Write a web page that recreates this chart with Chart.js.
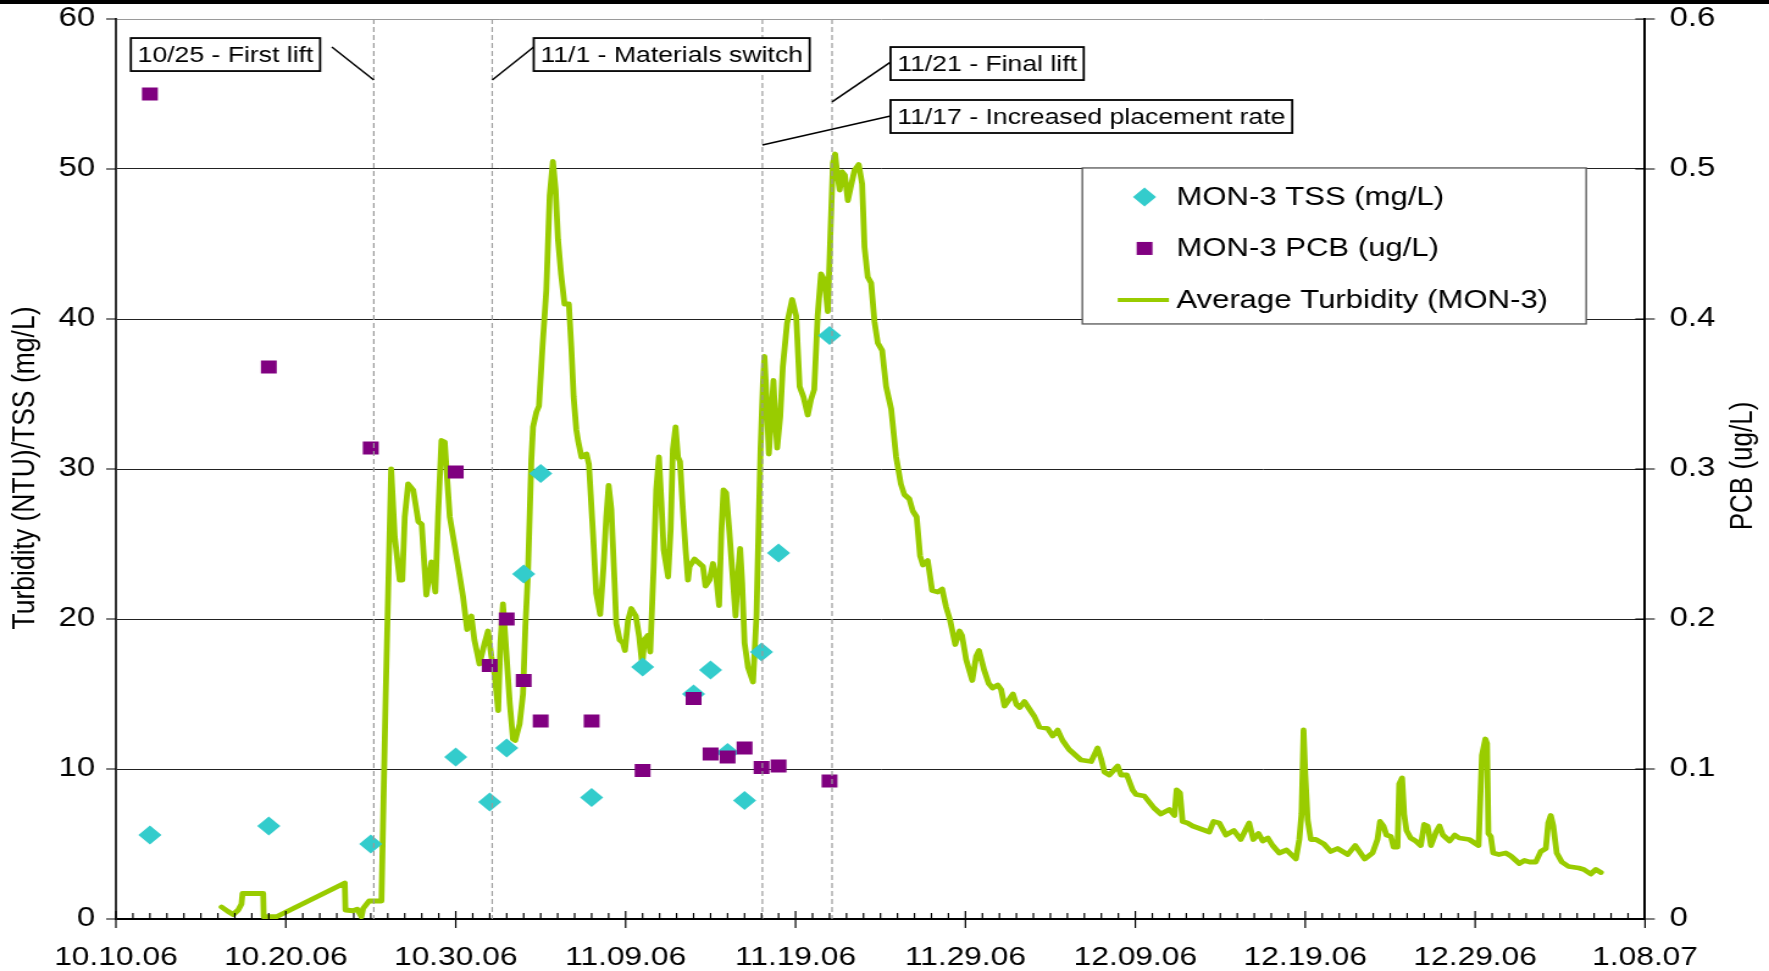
<!DOCTYPE html>
<html>
<head>
<meta charset="utf-8">
<title>MON-3 Turbidity, TSS and PCB</title>
<script src="https://cdn.jsdelivr.net/npm/chart.js@4.4.1/dist/chart.umd.min.js"></script>
<style>
  html, body { margin: 0; padding: 0; background: #fff; overflow: hidden; }
  #topbar { position: absolute; left: 0; top: 0; width: 1769px; height: 4px; background: #000; z-index: 2; }
  /* the chart is laid out narrow and widened, like the original export */
  #wrap { position: absolute; left: 0; top: 0; width: 1450px; height: 971px; transform: scaleX(1.22); transform-origin: 0 0; }
</style>
</head>
<body>
<div id="topbar"></div>
<div id="wrap"><canvas id="chart" width="1450" height="971"></canvas></div>
<script>
// x values are days after 10/10/06
const xTickDays = [0, 10, 20, 30, 40, 50, 60, 70, 80, 90];
const xTickLabels = ['10.10.06', '10.20.06', '10.30.06', '11.09.06', '11.19.06',
                     '11.29.06', '12.09.06', '12.19.06', '12.29.06', '1.08.07'];
const yLeftTicks = [0, 10, 20, 30, 40, 50, 60];
const yLeftTickLabels = ['0', '10', '20', '30', '40', '50', '60'];
const yRightTicks = [0, 0.1, 0.2, 0.3, 0.4, 0.5, 0.6];
const yRightTickLabels = ['0', '0.1', '0.2', '0.3', '0.4', '0.5', '0.6'];

// MON-3 TSS (mg/L)
const tssDays   = [2, 9, 15, 20, 22, 23, 24, 25, 28, 31, 34, 35, 36, 37, 38, 39, 42];
const tssValues = [5.6, 6.2, 5.0, 10.8, 7.8, 11.4, 23.0, 29.7, 8.1, 16.8, 15.0, 16.6, 11.1, 7.9, 17.8, 24.4, 38.9];

// MON-3 PCB (ug/L), right axis
const pcbDays   = [2, 9, 15, 20, 22, 23, 24, 25, 28, 31, 34, 35, 36, 37, 38, 39, 42];
const pcbValues = [0.550, 0.368, 0.314, 0.298, 0.169, 0.200, 0.159, 0.132, 0.132, 0.099, 0.147, 0.110, 0.108, 0.114, 0.101, 0.102, 0.092];

// Average Turbidity (MON-3), NTU
const turbDays = [
  6.22, 6.6, 6.9, 7.2, 7.39, 7.45, 8.67, 8.7, 9.45, 13.47, 13.51, 13.96, 14.2, 14.45, 14.55, 14.9, 15.63, 15.72, 15.88, 16.02,
  16.2, 16.41, 16.7, 16.86, 17.0, 17.2, 17.5, 17.8, 18.0, 18.27, 18.57, 18.8, 18.96, 19.16, 19.35, 19.65, 20.04, 20.43, 20.67, 20.92,
  21.1, 21.4, 21.7, 21.9, 22.1, 22.3, 22.5, 22.63, 22.78, 22.94, 23.18, 23.37, 23.5, 23.76, 23.96, 24.1, 24.25, 24.45, 24.55, 24.75,
  24.9, 25.1, 25.33, 25.53, 25.72, 25.88, 26.02, 26.2, 26.4, 26.66, 26.8, 26.94, 27.1, 27.2, 27.4, 27.7, 27.84, 28.08, 28.27, 28.5,
  28.7, 28.86, 29.0, 29.16, 29.35, 29.45, 29.65, 29.84, 29.96, 30.14, 30.33, 30.6, 30.8, 30.98, 31.1, 31.3, 31.45, 31.65, 31.8, 31.96,
  32.1, 32.24, 32.4, 32.5, 32.65, 32.78, 32.94, 33.08, 33.2, 33.37, 33.53, 33.67, 33.76, 34.06, 34.25, 34.55, 34.7, 34.94, 35.14, 35.33,
  35.5, 35.63, 35.76, 35.92, 36.1, 36.27, 36.47, 36.6, 36.74, 36.86, 37.0, 37.2, 37.5, 37.7, 37.84, 37.94, 38.08, 38.17, 38.3, 38.43,
  38.57, 38.7, 38.8, 38.92, 39.1, 39.25, 39.5, 39.8, 40.04, 40.24, 40.47, 40.72, 40.9, 41.1, 41.3, 41.5, 41.7, 41.9, 42.06, 42.2,
  42.33, 42.45, 42.6, 42.75, 42.9, 43.08, 43.27, 43.47, 43.72, 43.92, 44.06, 44.25, 44.45, 44.65, 44.84, 45.1, 45.33, 45.63, 45.92, 46.2,
  46.4, 46.7, 46.9, 47.13, 47.33, 47.5, 47.78, 48.04, 48.37, 48.63, 48.86, 49.1, 49.4, 49.65, 49.8, 50.04, 50.4, 50.63, 50.8, 51.1,
  51.37, 51.6, 51.9, 52.1, 52.3, 52.55, 52.8, 53.0, 53.2, 53.47, 53.76, 54.06, 54.35, 54.84, 55.14, 55.43, 55.72, 56.1, 56.8, 57.4,
  57.78, 57.98, 58.18, 58.47, 58.96, 59.16, 59.5, 59.84, 60.04, 60.53, 61.1, 61.5, 62.0, 62.3, 62.43, 62.63, 62.78, 63.07, 63.37, 63.86,
  64.35, 64.6, 64.94, 65.33, 65.8, 66.2, 66.7, 66.94, 67.25, 67.5, 67.8, 68.08, 68.47, 68.9, 69.45, 69.65, 69.78, 69.9, 70.0, 70.14,
  70.33, 70.63, 71.1, 71.5, 71.9, 72.5, 72.94, 73.5, 73.96, 74.25, 74.4, 74.6, 74.78, 75.04, 75.2, 75.43, 75.53, 75.7, 75.82, 75.96,
  76.2, 76.5, 76.8, 77.0, 77.2, 77.4, 77.7, 77.9, 78.1, 78.5, 78.8, 79.06, 79.65, 80.2, 80.4, 80.6, 80.7, 80.78, 80.92, 81.06,
  81.4, 81.8, 82.1, 82.6, 82.9, 83.2, 83.57, 83.86, 84.16, 84.3, 84.45, 84.6, 84.8, 85.1, 85.5, 86.1, 86.4, 86.8, 87.1, 87.4
];
const turbValues = [
  0.8, 0.5, 0.3, 0.6, 1.0, 1.7, 1.7, 0.15, 0.15, 2.4, 0.6, 0.55, 0.65, 0.15, 0.7, 1.2, 1.2, 6.2, 15.0, 21.7,
  30.0, 25.5, 22.6, 22.6, 26.8, 29.0, 28.6, 26.5, 26.3, 21.6, 23.8, 21.8, 26.8, 31.9, 31.8, 26.8, 24.2, 21.5, 19.3, 20.2,
  18.6, 17.0, 18.4, 19.2, 17.5, 16.2, 13.9, 18.4, 21.0, 18.4, 14.4, 12.0, 11.9, 13.0, 15.0, 19.5, 23.0, 30.6, 32.8, 33.8,
  34.2, 38.0, 41.9, 48.2, 50.5, 48.6, 45.3, 43.0, 41.0, 41.0, 38.2, 34.8, 32.6, 31.9, 30.8, 31.0, 30.3, 25.7, 21.7, 20.3,
  23.5, 26.8, 28.9, 27.3, 22.4, 19.7, 18.6, 18.4, 17.9, 19.9, 20.7, 20.2, 18.8, 16.9, 18.6, 18.9, 17.8, 23.5, 28.6, 30.8,
  27.9, 24.6, 23.5, 22.8, 26.0, 31.3, 32.8, 30.8, 30.5, 27.3, 24.6, 22.6, 23.5, 24.0, 23.8, 23.5, 22.2, 22.6, 23.7, 22.8,
  20.9, 25.7, 28.6, 28.4, 25.9, 23.3, 20.2, 22.8, 24.7, 22.4, 18.4, 16.8, 15.8, 20.2, 26.8, 31.3, 35.7, 37.5, 34.6, 31.0,
  33.5, 35.9, 33.5, 31.4, 33.5, 36.8, 39.7, 41.3, 40.2, 35.5, 34.8, 33.6, 34.6, 35.3, 40.2, 43.0, 42.6, 40.5, 45.9, 50.4,
  51.0, 49.7, 48.6, 49.8, 49.6, 47.9, 48.9, 49.9, 50.3, 49.0, 44.8, 42.8, 42.4, 39.8, 38.4, 37.9, 35.5, 34.0, 30.8, 29.0,
  28.3, 28.0, 27.2, 26.8, 24.2, 23.6, 23.9, 21.9, 21.8, 22.0, 20.8, 19.9, 18.3, 19.2, 18.9, 17.3, 15.9, 17.5, 17.9, 16.6,
  15.7, 15.4, 15.6, 15.3, 14.2, 14.6, 15.0, 14.3, 14.1, 14.5, 14.0, 13.5, 12.8, 12.7, 12.2, 12.6, 11.9, 11.3, 10.6, 10.5,
  11.4, 10.7, 9.8, 9.6, 10.2, 9.6, 9.6, 8.6, 8.3, 8.2, 7.4, 7.0, 7.3, 6.9, 8.6, 8.4, 6.5, 6.4, 6.2, 6.0,
  5.8, 6.5, 6.4, 5.6, 5.9, 5.3, 6.4, 5.3, 5.7, 5.2, 5.4, 4.9, 4.4, 4.6, 4.0, 5.3, 7.0, 12.6, 9.7, 6.6,
  5.3, 5.3, 5.0, 4.5, 4.7, 4.3, 4.9, 4.0, 4.4, 5.3, 6.5, 6.2, 5.6, 5.5, 4.8, 4.8, 9.0, 9.4, 7.0, 5.9,
  5.4, 5.2, 4.9, 6.3, 6.2, 4.9, 5.8, 6.2, 5.6, 5.2, 5.6, 5.4, 5.3, 4.9, 10.9, 12.0, 11.7, 5.7, 5.5, 4.4,
  4.3, 4.4, 4.2, 3.7, 3.9, 3.8, 3.8, 4.5, 4.7, 6.4, 6.9, 6.2, 4.4, 3.8, 3.5, 3.4, 3.3, 3.0, 3.3, 3.1
];

// construction events (dashed lines) and their callouts
const eventDays = [15.18, 22.15, 38.05, 42.15];
const eventLabels = ['10/25 - First lift', '11/1 - Materials switch',
                     '11/17 - Increased placement rate', '11/21 - Final lift'];

const FONT = '"Liberation Sans", Arial, sans-serif';

// callout boxes placed in axis units: box = [left day, top value], lead = leader start, tip = leader end value
const callouts = [
  { event: 0, box: [0.88, 58.73],  lead: [12.71, 58.13], tip: 55.93 },
  { event: 1, box: [24.59, 58.73], lead: [24.59, 58.13], tip: 55.93 },
  { event: 3, box: [45.59, 58.13], lead: [45.59, 57.13], tip: 54.47 },
  { event: 2, box: [45.59, 54.6],  lead: [45.59, 53.53], tip: 51.6 }
];
const legendAt = [56.88, 50.07];

function pointPath(ctx, style, cx, cy, r) {
  ctx.beginPath();
  if (style === 'rectRot') {
    ctx.moveTo(cx, cy - r); ctx.lineTo(cx + r, cy); ctx.lineTo(cx, cy + r); ctx.lineTo(cx - r, cy);
    ctx.closePath();
  } else {
    const h = r * Math.SQRT1_2;
    ctx.rect(cx - h, cy - h, 2 * h, 2 * h);
  }
}

// keep the vertical axes from reserving room for their end labels
function fixVertical(width) {
  return s => {
    s.width = width;
    s.paddingTop = 0;
    s.paddingBottom = 0;
  };
}

const overlay = {
  id: 'overlay',
  afterDatasetsDraw(chart) {
    const { ctx, chartArea: a, scales: { x } } = chart;
    ctx.save();
    ctx.strokeStyle = '#9a9a9a';
    ctx.lineWidth = 1.2;
    ctx.setLineDash([5, 3]);
    eventDays.forEach(d => {
      const px = x.getPixelForValue(d);
      ctx.beginPath();
      ctx.moveTo(px, a.top);
      ctx.lineTo(px, a.bottom);
      ctx.stroke();
    });
    ctx.restore();
  },
  afterDraw(chart) {
    const { ctx, chartArea: a, scales: { x, y, y2 } } = chart;

    // tick marks: days minor inside, every 10 days crossing
    ctx.save();
    ctx.strokeStyle = '#000';
    ctx.lineWidth = 1.2;
    ctx.beginPath();
    for (let d = 0; d <= 90; d++) {
      const px = x.getPixelForValue(d);
      const major = d % 10 === 0;
      ctx.moveTo(px, a.bottom - (major ? 8 : 6));
      ctx.lineTo(px, a.bottom + (major ? 9 : 0));
    }
    yLeftTicks.forEach(v => {
      const py = y.getPixelForValue(v);
      ctx.moveTo(a.left - 8, py); ctx.lineTo(a.left, py);
    });
    yRightTicks.forEach(v => {
      const py = y2.getPixelForValue(v);
      ctx.moveTo(a.right - 8, py); ctx.lineTo(a.right + 8, py);
    });
    ctx.stroke();
    ctx.restore();

    // callouts
    ctx.save();
    ctx.font = '21.8px ' + FONT;
    ctx.textBaseline = 'middle';
    ctx.strokeStyle = '#000';
    callouts.forEach(c => {
      ctx.lineWidth = 1.5;
      ctx.beginPath();
      ctx.moveTo(x.getPixelForValue(c.lead[0]), y.getPixelForValue(c.lead[1]));
      ctx.lineTo(x.getPixelForValue(eventDays[c.event]), y.getPixelForValue(c.tip));
      ctx.stroke();
      const text = eventLabels[c.event];
      const bx = x.getPixelForValue(c.box[0]);
      const by = y.getPixelForValue(c.box[1]);
      const bw = ctx.measureText(text).width + 11;
      const bh = 33;
      ctx.fillStyle = '#fff';
      ctx.fillRect(bx, by, bw, bh);
      ctx.lineWidth = 1.8;
      ctx.strokeRect(bx, by, bw, bh);
      ctx.fillStyle = '#000';
      ctx.fillText(text, bx + 5.5, by + bh / 2 + 1);
    });
    ctx.restore();

    // legend box
    const lx = x.getPixelForValue(legendAt[0]);
    const ly = y.getPixelForValue(legendAt[1]);
    ctx.save();
    ctx.fillStyle = '#fff';
    ctx.fillRect(lx, ly, 413, 156);
    ctx.strokeStyle = '#555';
    ctx.lineWidth = 1.3;
    ctx.strokeRect(lx, ly, 413, 156);
    ctx.font = '25.5px ' + FONT;
    ctx.textBaseline = 'middle';
    const rows = [29, 80.5, 132];
    [0, 1, 2].forEach(i => {
      const ds = chart.data.datasets[i];
      const ry = ly + rows[i];
      if (ds.showLine) {
        ctx.strokeStyle = ds.borderColor;
        ctx.lineWidth = 4;
        ctx.beginPath();
        ctx.moveTo(lx + 29, ry); ctx.lineTo(lx + 71, ry);
        ctx.stroke();
      } else {
        ctx.fillStyle = ds.backgroundColor;
        pointPath(ctx, ds.pointStyle, lx + 51, ry, ds.pointRadius);
        ctx.fill();
      }
      ctx.fillStyle = '#000';
      ctx.fillText(ds.label, lx + 77, ry + 1);
    });
    ctx.restore();

    // axis titles, both reading upwards
    ctx.save();
    ctx.font = '26.5px ' + FONT;
    ctx.fillStyle = '#000';
    ctx.textAlign = 'center';
    ctx.textBaseline = 'middle';
    ctx.translate(21, 468);
    ctx.rotate(-Math.PI / 2);
    ctx.fillText('Turbidity (NTU)/TSS (mg/L)', 0, 0);
    ctx.restore();
    ctx.save();
    ctx.font = '26px ' + FONT;
    ctx.fillStyle = '#000';
    ctx.textAlign = 'center';
    ctx.textBaseline = 'middle';
    ctx.translate(1428.7, 466);
    ctx.rotate(-Math.PI / 2);
    ctx.fillText('PCB (ug/L)', 0, 0);
    ctx.restore();
  }
};

const xTickFont = { family: FONT, size: 26 };
const yTickFont = { family: FONT, size: 27 };

new Chart(document.getElementById('chart'), {
  type: 'scatter',
  data: {
    datasets: [
      {
        label: 'MON-3 TSS (mg/L)',
        data: tssDays.map((d, i) => ({ x: d, y: tssValues[i] })),
        yAxisID: 'y',
        pointStyle: 'rectRot',
        pointRadius: 9.5,
        backgroundColor: '#33CCCC',
        borderColor: '#33CCCC',
        borderWidth: 0,
        order: 1
      },
      {
        label: 'MON-3 PCB (ug/L)',
        data: pcbDays.map((d, i) => ({ x: d, y: pcbValues[i] })),
        yAxisID: 'y2',
        pointStyle: 'rect',
        pointRadius: 9.2,
        backgroundColor: '#800080',
        borderColor: '#800080',
        borderWidth: 0,
        order: 0
      },
      {
        label: 'Average Turbidity (MON-3)',
        data: turbDays.map((d, i) => ({ x: d, y: turbValues[i] })),
        yAxisID: 'y',
        showLine: true,
        borderColor: '#99CC00',
        borderWidth: 4.8,
        borderJoinStyle: 'round',
        borderCapStyle: 'round',
        pointRadius: 0,
        tension: 0,
        order: 2
      }
    ]
  },
  options: {
    responsive: false,
    devicePixelRatio: 1,
    animation: false,
    layout: { padding: { top: 19, left: 0, right: 0, bottom: 0 } },
    plugins: { legend: { display: false }, tooltip: { enabled: false } },
    scales: {
      x: {
        type: 'linear',
        min: 0,
        max: 90,
        afterBuildTicks: s => { s.ticks = xTickDays.map(v => ({ value: v })); },
        afterFit: s => { s.height = 52; },
        grid: { display: false, drawTicks: false },
        border: { display: true, color: '#000', width: 2 },
        ticks: {
          autoSkip: false, maxRotation: 0, minRotation: 0,
          padding: 23, color: '#000', font: xTickFont,
          callback: (v, i) => xTickLabels[i]
        }
      },
      y: {
        position: 'left',
        min: 0,
        max: 60,
        afterBuildTicks: s => { s.ticks = yLeftTicks.map(v => ({ value: v })); },
        afterFit: fixVertical(95),
        grid: {
          drawTicks: false,
          lineWidth: 1,
          color: c => (c.tick && c.tick.value === 60) ? '#9a9a9a' : '#222'
        },
        border: { display: true, color: '#333', width: 2 },
        ticks: { padding: 17, color: '#000', font: yTickFont, callback: (v, i) => yLeftTickLabels[i] }
      },
      y2: {
        position: 'right',
        min: 0,
        max: 0.6,
        afterBuildTicks: s => { s.ticks = yRightTicks.map(v => ({ value: v })); },
        afterFit: fixVertical(101.6),
        grid: { display: false, drawTicks: false },
        border: { display: true, color: '#000', width: 2 },
        ticks: { padding: 20, color: '#000', font: yTickFont, callback: (v, i) => yRightTickLabels[i] }
      }
    }
  },
  plugins: [overlay]
});
</script>
</body>
</html>
